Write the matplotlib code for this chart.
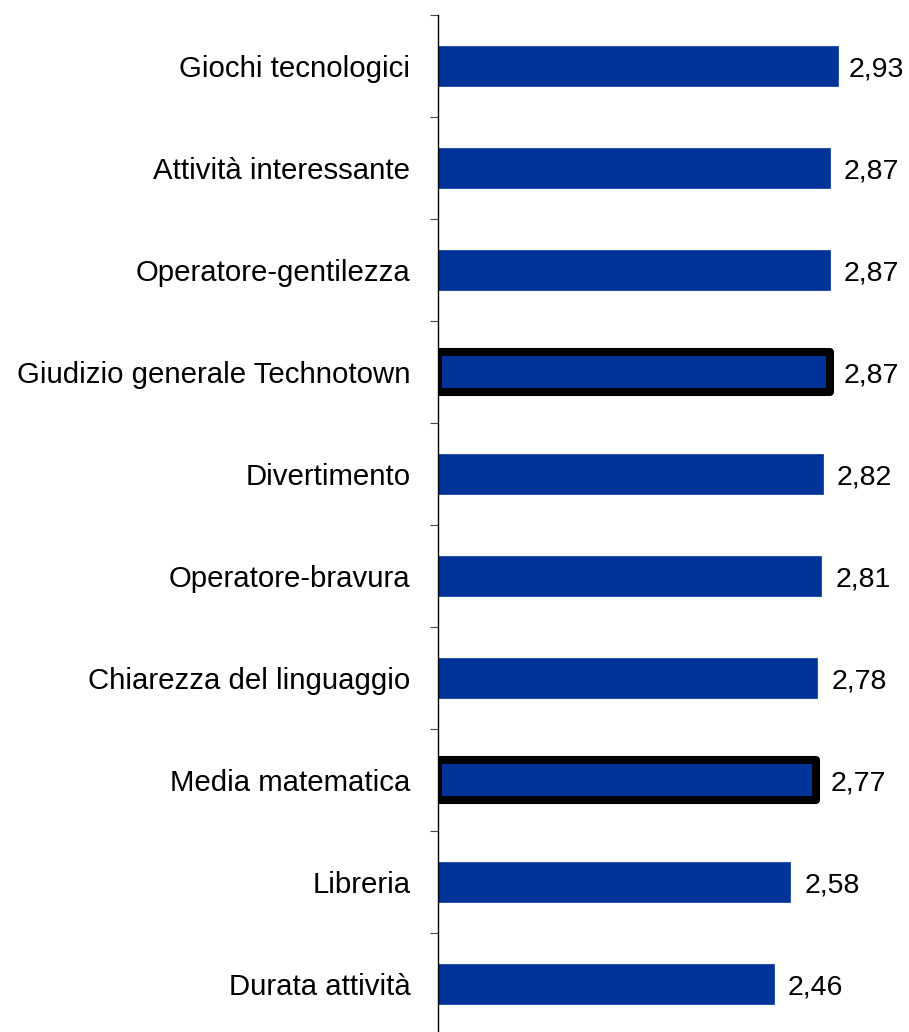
import matplotlib
matplotlib.use("Agg")
import matplotlib.pyplot as plt
import numpy as np

plt.rcParams["font.family"] = ["Liberation Sans", "DejaVu Sans"]

# Valutazioni medie, dall'alto verso il basso
categories = [
    "Giochi tecnologici",
    "Attività interessante",
    "Operatore-gentilezza",
    "Giudizio generale Technotown",
    "Divertimento",
    "Operatore-bravura",
    "Chiarezza del linguaggio",
    "Media matematica",
    "Libreria",
    "Durata attività",
]
values = [2.93, 2.87, 2.87, 2.87, 2.82, 2.81, 2.78, 2.77, 2.58, 2.46]
highlighted = ["Giudizio generale Technotown", "Media matematica"]

BAR_COLOR = "#003399"

fig = plt.figure(figsize=(9.09, 10.32), dpi=100)
# asse y a x=437px, da 15px fino poco oltre il fondo
ax = fig.add_axes([437.5 / 909, -3 / 1032, 0.6, 1020 / 1032])

n = len(categories)
ypos = np.arange(n)
ax.barh(ypos, values, height=0.4, color=BAR_COLOR, edgecolor=BAR_COLOR, linewidth=0.5)

for y, cat, v in zip(ypos, categories, values):
    if cat in highlighted:
        ax.barh(y, v, height=0.4, color=BAR_COLOR, edgecolor="black",
                linewidth=5.8, joinstyle="round")
    # etichetta del valore con la virgola decimale
    dx = 0.08 if v > 2.9 else 0.105
    ax.text(v + dx, y + 0.035, f"{v:.2f}".replace(".", ","), va="center", ha="left",
            fontsize=20.5, color="black")

ax.set_xlim(0, 0.6 * 909 / 136.6)
ax.set_ylim(n - 0.5, -0.5)

ax.set_yticks(ypos)
ax.set_yticklabels(categories, fontsize=21.2)
ax.tick_params(axis="y", which="major", length=0, pad=19.5)
ax.set_yticks(np.arange(n + 1) - 0.5, minor=True)
ax.tick_params(axis="y", which="minor", length=6, width=0.8, color="#444444")
ax.set_xticks([])

for side in ["top", "right", "bottom"]:
    ax.spines[side].set_visible(False)
ax.spines["left"].set_linewidth(1.0)

fig.savefig("out.png", dpi=100)
